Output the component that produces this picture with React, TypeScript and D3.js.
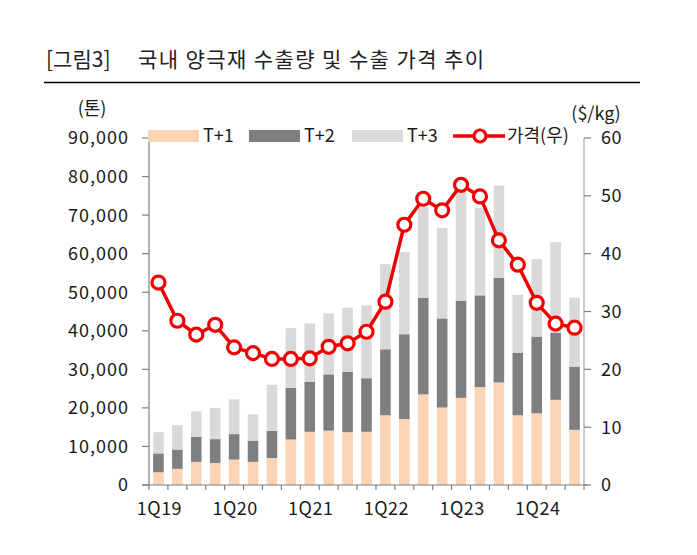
import React from "react";
import * as d3 from "d3";

const quarters = [
  "1Q19","2Q19","3Q19","4Q19","1Q20","2Q20","3Q20","4Q20",
  "1Q21","2Q21","3Q21","4Q21","1Q22","2Q22","3Q22","4Q22",
  "1Q23","2Q23","3Q23","4Q23","1Q24","2Q24","3Q24",
];
const xLabels = ["1Q19","1Q20","1Q21","1Q22","1Q23","1Q24"];
// tonnes
const t1 = [3300,4200,6000,5700,6600,6000,7000,11800,13800,14100,13700,13800,18100,17100,23500,20100,22600,25400,26600,18100,18600,22100,14300];
const t2 = [4900,5000,6500,6200,6600,5500,7000,13400,13000,14600,15700,13900,17100,22000,25100,23100,25200,23800,27100,16200,19900,17400,16400];
const t3 = [5500,6300,6600,8100,9000,6800,12000,15500,15100,15800,16600,18900,22100,21300,23500,23500,29200,22600,24000,15000,20100,23500,17900];
// $/kg
const price = [35.0,28.4,26.0,27.7,23.8,22.8,21.8,21.8,21.9,23.9,24.5,26.5,31.7,45.0,49.5,47.5,51.9,49.9,42.3,38.1,31.5,27.9,27.2];
const leftTicks = [0,10000,20000,30000,40000,50000,60000,70000,80000,90000];
const rightTicks = [0,10,20,30,40,50,60];
const seriesNames = ["T+1","T+2","T+3"];
const seriesColors = ["#FBD3B5","#7F7F7F","#D9D9D9"];
const lineColor = "#F00000";

const W = 697, H = 555;
const X0 = 149, X1 = 584, Y0 = 485, Y1 = 138;
const FONT = "'Noto Sans CJK KR', 'Noto Sans', sans-serif";

export default function App() {
  const x = d3.scaleBand<string>().domain(quarters).range([X0, X1]).paddingInner(0.44).paddingOuter(0.22);
  const band = (X1 - X0) / quarters.length;
  const yL = d3.scaleLinear().domain([0, 90000]).range([Y0, Y1]);
  const yR = d3.scaleLinear().domain([0, 60]).range([Y0, Y1]);
  const rows = quarters.map((q, i) => ({ q, "T+1": t1[i], "T+2": t2[i], "T+3": t3[i] }));
  const stack = d3.stack<any>().keys(seriesNames)(rows);
  const cx = (q: string) => (x(q) as number) + x.bandwidth() / 2;
  const line = d3.line<number>().x((_, i) => cx(quarters[i])).y((d) => yR(d));
  const fmt = d3.format(",");
  const tc = "#1a1a1a";
  const fs = 18;

  return (
    <svg width={W} height={H} style={{ position: "absolute", left: 0, top: 0, background: "#fff" }} fontFamily={FONT}>
      <text x={46} y={67} fontSize={21} fill="#222">[그림3]</text>
      <text x={138} y={67} fontSize={21} fill="#222" letterSpacing={1.4}>국내 양극재 수출량 및 수출 가격 추이</text>
      <line x1={44} x2={640} y1={82.5} y2={82.5} stroke="#000" strokeWidth={1.5} />
      <text x={92} y={115} fontSize={fs} fill={tc} textAnchor="middle">(톤)</text>
      <text x={596} y={120} fontSize={fs} fill={tc} textAnchor="middle">($/kg)</text>

      {/* bars */}
      {stack.map((s, si) => (
        <g key={si} fill={seriesColors[si]}>
          {s.map((d, i) => (
            <rect key={i} x={x(quarters[i])} width={x.bandwidth()} y={yL(d[1])} height={yL(d[0]) - yL(d[1])} />
          ))}
        </g>
      ))}

      {/* left axis */}
      <line x1={X0} x2={X0} y1={Y1} y2={Y0} stroke="#7f7f7f" strokeWidth={1.2} />
      {leftTicks.map((t) => (
        <g key={t}>
          <line x1={X0 - 7} x2={X0} y1={yL(t)} y2={yL(t)} stroke="#7f7f7f" strokeWidth={1.2} />
          <text x={129} y={yL(t)} dy="0.36em" fontSize={fs} fill={tc} textAnchor="end" letterSpacing={1}>{fmt(t)}</text>
        </g>
      ))}
      {/* right axis */}
      <line x1={X1} x2={X1} y1={Y1} y2={Y0} stroke="#a6a6a6" strokeWidth={1.2} />
      {rightTicks.map((t) => (
        <g key={t}>
          <line x1={X1} x2={X1 + 7} y1={yR(t)} y2={yR(t)} stroke="#7f7f7f" strokeWidth={1.2} />
          <text x={601} y={yR(t)} dy="0.36em" fontSize={fs} fill={tc} letterSpacing={0.5}>{t}</text>
        </g>
      ))}
      {/* bottom axis */}
      <line x1={X0 - 7} x2={X1 + 4} y1={Y0} y2={Y0} stroke="#7f7f7f" strokeWidth={1.2} />
      {d3.range(quarters.length + 1).map((i) => (
        <line key={i} x1={X0 + i * band} x2={X0 + i * band} y1={Y0} y2={Y0 + 5} stroke="#7f7f7f" strokeWidth={1.2} />
      ))}
      {xLabels.map((l) => (
        <text key={l} x={cx(l) + 1} y={515} fontSize={fs} fill={tc} textAnchor="middle" letterSpacing={0.5}>{l}</text>
      ))}

      {/* price line */}
      <path d={line(price) || ""} fill="none" stroke={lineColor} strokeWidth={3.5} strokeLinejoin="round" />
      {price.map((p, i) => (
        <circle key={i} cx={cx(quarters[i])} cy={yR(p)} r={6.5} fill="#fff" stroke={lineColor} strokeWidth={3.2} />
      ))}

      {/* legend */}
      {seriesNames.map((n, i) => {
        const lx = [148, 249, 352][i];
        return (
          <g key={n}>
            <rect x={lx} y={130} width={51} height={12} fill={seriesColors[i]} />
            <text x={lx + 55} y={136} dy="0.36em" fontSize={fs} fill={tc}>{n}</text>
          </g>
        );
      })}
      <line x1={453} x2={505} y1={136} y2={136} stroke={lineColor} strokeWidth={3.5} />
      <circle cx={480} cy={136} r={6} fill="#fff" stroke={lineColor} strokeWidth={3.2} />
      <text x={507} y={136} dy="0.36em" fontSize={fs} fill={tc}>가격(우)</text>
    </svg>
  );
}
